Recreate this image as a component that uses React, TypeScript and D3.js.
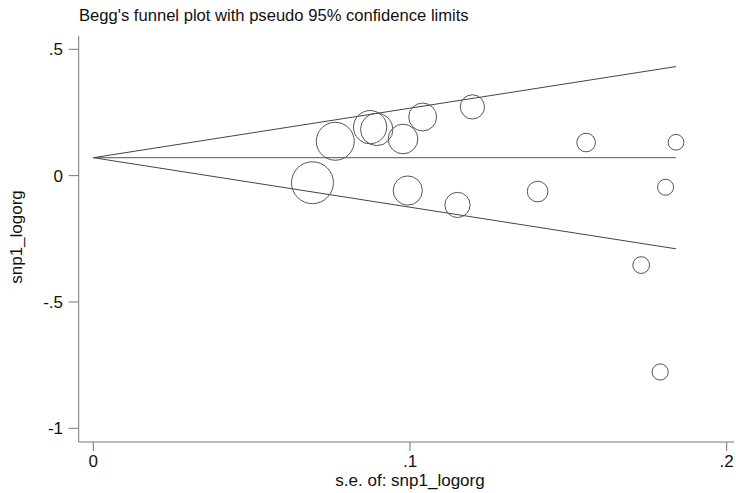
import React from 'react';
import * as d3 from 'd3';

// study-level values
const studySe = [0.0692, 0.0764, 0.0874, 0.0895, 0.0978, 0.0993, 0.104, 0.115, 0.1197, 0.1403, 0.1556, 0.173, 0.179, 0.1807, 0.184];
const studyLogOr = [-0.028, 0.136, 0.192, 0.183, 0.145, -0.059, 0.232, -0.116, 0.272, -0.063, 0.131, -0.354, -0.777, -0.046, 0.132];
const pooled = 0.071;

const xTicks = [0, 0.1, 0.2];
const yTicks = [0.5, 0, -0.5, -1];
// stata style: ".5", "-.5"
const fmt = (v: number) => (v === 0 ? '0' : String(v).replace('0.', '.'));

const W = 736;
const H = 493;
const font = '"Liberation Sans", Arial, sans-serif';

const App: React.FC = () => {
  const x = d3.scaleLinear().domain([0, 0.2]).range([93.3, 726.7]);
  const y = d3.scaleLinear().domain([-1, 0.5]).range([428.3, 49.3]);

  const weights = studySe.map(s => 1 / (s * s));
  const maxW = d3.max(weights) || 1;
  const r = d3.scaleSqrt().domain([0, maxW]).range([0, 1.45 * Math.sqrt(maxW)]);

  const maxSe = d3.max(studySe) || 0.2;
  const line = d3.line<[number, number]>().x(d => x(d[0])).y(d => y(d[1]));
  const upper: [number, number][] = [[0, pooled], [maxSe, pooled + 1.96 * maxSe]];
  const lower: [number, number][] = [[0, pooled], [maxSe, pooled - 1.96 * maxSe]];
  const mid: [number, number][] = [[0, pooled], [maxSe, pooled]];

  const axisLeft = 78.7;
  const axisBottom = 442;

  return (
    <svg width={W} height={H} style={{ position: 'absolute', left: 0, top: 0, background: '#fff' }}>
      <text x={79} y={21} fontFamily={font} fontSize={16.6} fill="#111">
        Begg's funnel plot with pseudo 95% confidence limits
      </text>

      {/* axes */}
      <line x1={axisLeft} x2={axisLeft} y1={36} y2={axisBottom} stroke="#777" strokeWidth={1} />
      <line x1={axisLeft} x2={734} y1={axisBottom} y2={axisBottom} stroke="#777" strokeWidth={1} />

      {yTicks.map(t => (
        <g key={'y' + t}>
          <line x1={axisLeft - 10} x2={axisLeft} y1={y(t)} y2={y(t)} stroke="#777" />
          <text x={63} y={y(t)} dy="0.36em" textAnchor="end" fontFamily={font} fontSize={17} fill="#111">
            {fmt(t)}
          </text>
        </g>
      ))}
      {xTicks.map(t => (
        <g key={'x' + t}>
          <line x1={x(t)} x2={x(t)} y1={axisBottom} y2={axisBottom + 9} stroke="#777" />
          <text x={x(t)} y={466.7} textAnchor="middle" fontFamily={font} fontSize={17} fill="#111">
            {fmt(t)}
          </text>
        </g>
      ))}

      <text x={410} y={486} textAnchor="middle" fontFamily={font} fontSize={17} fill="#111">
        s.e. of: snp1_logorg
      </text>
      <text transform="translate(22,237) rotate(-90)" textAnchor="middle" fontFamily={font} fontSize={17} fill="#111">
        snp1_logorg
      </text>

      {/* funnel limits */}
      <path d={line(upper) || ''} fill="none" stroke="#444" strokeWidth={1} />
      <path d={line(lower) || ''} fill="none" stroke="#444" strokeWidth={1} />
      <path d={line(mid) || ''} fill="none" stroke="#555" strokeWidth={1} />

      {studySe.map((s, i) => (
        <circle key={i} cx={x(s)} cy={y(studyLogOr[i])} r={r(weights[i])} fill="none" stroke="#555" strokeWidth={1} />
      ))}
    </svg>
  );
};

export default App;
